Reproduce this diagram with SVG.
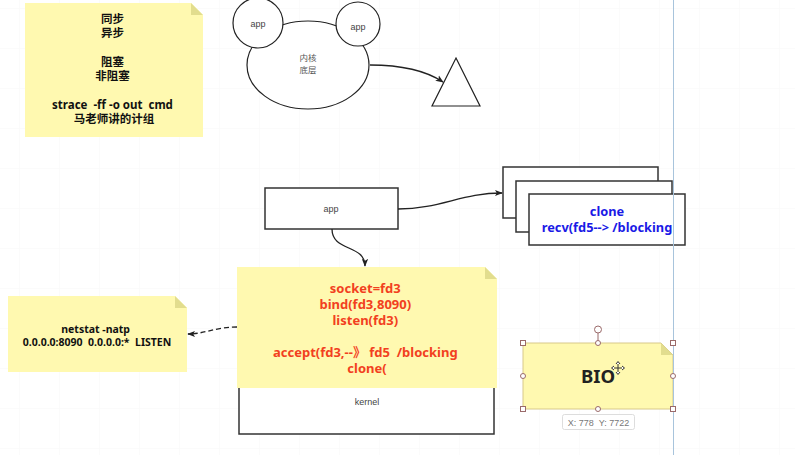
<svg xmlns="http://www.w3.org/2000/svg" width="795" height="455" viewBox="0 0 795 455">
<defs>
<style>
.note{fill:#FFF9B0;stroke:none}
.fold{fill:#E2DD8E}
.shape{fill:#fff;stroke:#222;stroke-width:1.2}
.box{fill:#fff;stroke:#333;stroke-width:1.5}
.lbl{font-family:"Liberation Sans",Arial,sans-serif;font-size:9px;fill:#444;text-anchor:middle}
.cn{font-family:"Noto Sans CJK SC",sans-serif;font-size:8.5px;fill:#555;text-anchor:middle}
.nt{font-family:"Noto Sans","Noto Sans CJK SC",sans-serif;font-weight:bold;text-anchor:middle}
.conn{fill:none;stroke:#222;stroke-width:1.3}
.h{fill:#fff;stroke:#9a6a6a;stroke-width:1}
</style>
<marker id="ah" viewBox="0 0 10 10" refX="9" refY="5" markerWidth="8" markerHeight="8" orient="auto" markerUnits="userSpaceOnUse">
<path d="M0,1 L10,5 L0,9 L2.5,5 Z" fill="#222"/>
</marker>
<pattern id="grid" width="40" height="40" patternUnits="userSpaceOnUse" x="19" y="8">
<path d="M40,0 L0,0 L0,40" fill="none" stroke="#f7f7f7" stroke-width="1"/>
</pattern>
</defs>
<rect width="795" height="455" fill="#fff"/>
<rect width="795" height="455" fill="url(#grid)"/>

<g id="note-sync">
<path class="note" d="M25,3 H191 L203,15 V137 H25 Z"/>
<path class="fold" d="M191,3 L203,15 H191 Z"/>
<text class="nt" font-size="11.5" fill="#111">
<tspan x="114" y="23">同步</tspan>
<tspan x="114" y="37">异步</tspan>
<tspan x="114" y="66">阻塞</tspan>
<tspan x="114" y="80">非阻塞</tspan>
<tspan x="114" y="109" xml:space="preserve">strace  -ff -o out  cmd</tspan>
<tspan x="114" y="123">马老师讲的计组</tspan>
</text>
</g>

<g id="kernel-base">
<ellipse class="shape" cx="308" cy="65" rx="61" ry="44"/>
<text class="cn"><tspan x="308" y="61">内核</tspan><tspan x="308" y="73">底层</tspan></text>
</g>
<g id="app-circle-1">
<circle class="shape" cx="258" cy="23" r="25"/>
<text class="lbl" x="258" y="27">app</text>
</g>
<g id="app-circle-2">
<circle class="shape" cx="358" cy="24" r="22"/>
<text class="lbl" x="358" y="30">app</text>
</g>
<g id="triangle">
<path class="shape" d="M456,58 L480,106 L432,106 Z"/>
</g>

<g id="app">
<rect class="box" x="265" y="188" width="133" height="41"/>
<text class="lbl" x="331" y="212">app</text>
</g>

<g id="threads">
<rect class="box" x="503" y="167" width="155" height="51"/>
<rect class="box" x="516" y="181" width="156" height="51"/>
<rect class="box" x="529" y="194" width="156" height="51"/>
<text class="nt" font-size="12.8" fill="#1a1ae6"><tspan x="607" y="216">clone</tspan><tspan x="607" y="232">recv(fd5--&gt; /blocking</tspan></text>
</g>

<g id="kernel">
<rect class="box" x="239" y="372" width="255" height="62"/>
<text class="lbl" x="367" y="405">kernel</text>
</g>

<g id="note-syscalls">
<path class="note" d="M237,267 H485 L497,279 V388 H237 Z"/>
<path class="fold" d="M485,267 L497,279 H485 Z"/>
<text class="nt" font-size="13" fill="#F2401E">
<tspan x="367" y="293">socket=fd3</tspan>
<tspan x="367" y="309">bind(fd3,8090)</tspan>
<tspan x="367" y="325">listen(fd3)</tspan>
<tspan x="367" y="357" xml:space="preserve">accept(fd3,--》 fd5  /blocking</tspan>
<tspan x="367" y="373">clone(</tspan>
</text>
</g>

<g id="note-netstat">
<path class="note" d="M8,296 H175 L187,308 V372 H8 Z"/>
<path class="fold" d="M175,296 L187,308 H175 Z"/>
<text class="nt" font-size="10.5" fill="#111">
<tspan x="97" y="333">netstat -natp</tspan>
<tspan x="97" y="346" xml:space="preserve">0.0.0.0:8090  0.0.0.0:*  LISTEN</tspan>
</text>
</g>

<g id="note-bio">
<path class="note" d="M523,343 H661 L673,355 V409 H523 Z" style="stroke:#d8c98a;stroke-width:1"/>
<path class="fold" d="M661,343 L673,355 H661 Z"/>
<text class="nt" x="598" y="383" font-size="18.5" fill="#222">BIO</text>
</g>

<g id="connectors">
<path class="conn" d="M370,65 C400,65 425,70 443,82" marker-end="url(#ah)"/>
<path class="conn" d="M398,209 C440,209 462,193 502,193" marker-end="url(#ah)"/>
<path class="conn" d="M332,229 C332,252 365,244 365,266" marker-end="url(#ah)"/>
<path class="conn" d="M237,327 C215,327 205,334 188,334" stroke-dasharray="5,3" marker-end="url(#ah)"/>
</g>

<g id="guide">
<line x1="673.5" y1="0" x2="673.5" y2="455" stroke="#a8c4dc" stroke-width="1"/>
</g>

<g id="selection">
<line x1="598" y1="333" x2="598" y2="343" stroke="#9a6a6a" stroke-width="1"/>
<circle class="h" cx="598" cy="329.5" r="3.5"/>
<rect class="h" x="520.5" y="340.5" width="5" height="5"/>
<rect class="h" x="670.5" y="340.5" width="5" height="5"/>
<rect class="h" x="520.5" y="406.5" width="5" height="5"/>
<rect class="h" x="670.5" y="406.5" width="5" height="5"/>
<circle class="h" cx="598" cy="343" r="2.5"/>
<circle class="h" cx="598" cy="409" r="2.5"/>
<circle class="h" cx="523" cy="376" r="2.5"/>
<circle class="h" cx="673" cy="376" r="2.5"/>
<g stroke="#333" stroke-width="1" fill="none">
<path d="M618,362 V374 M612,368 H624"/>
<path d="M616,364 L618,361.5 L620,364 M616,372 L618,374.5 L620,372 M614,366 L611.5,368 L614,370 M622,366 L624.5,368 L622,370" fill="#fff"/>
</g>
<rect x="562.5" y="414.5" width="72" height="15" rx="2" fill="#fff" stroke="#ddd"/>
<text x="598.5" y="425.5" font-family="Liberation Sans,Arial,sans-serif" font-size="9" fill="#777" text-anchor="middle" xml:space="preserve">X: 778  Y: 7722</text>
</g>
</svg>
